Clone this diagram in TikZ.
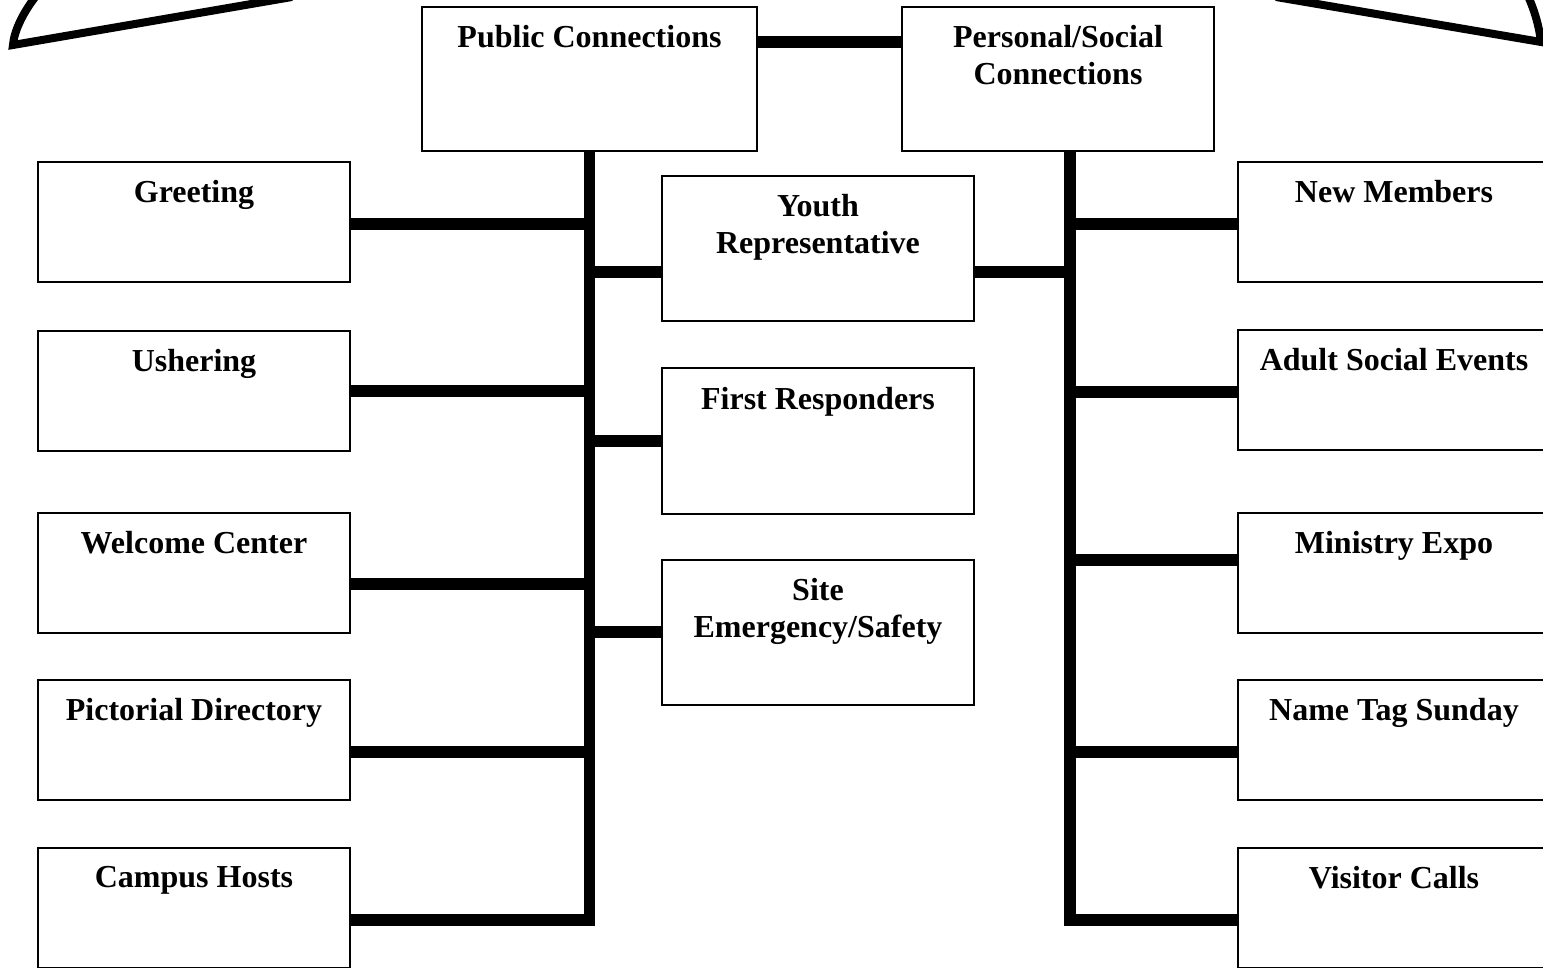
\documentclass[tikz,border=0pt]{standalone}
\usepackage{fontspec}
\setmainfont{Liberation Serif}
\usepackage{tikz}
\usetikzlibrary{positioning, calc}

\begin{document}
\begin{tikzpicture}[
    x=0.5pt, y=-0.5pt,
    title/.style={anchor=north, yshift=-9.5pt, inner sep=0pt, align=center, font=\fontsize{16}{18.5}\selectfont\bfseries},
    box/.style={rectangle, draw, line width=1pt, minimum width=156pt, minimum height=60pt, inner sep=0pt, label={[title]north:#1}},
    head/.style={box=#1, minimum height=72pt},
    mid/.style={box=#1, minimum height=72.5pt},
    wire/.style={line width=5.75pt, line join=miter},
    swoosh/.style={line width=4pt, line join=miter}
]

% page area
\path[use as bounding box, clip] (0,0) rectangle (1543,968);
\fill[white] (0,0) rectangle (1543,968);

% Heads
\node[head=Public Connections, minimum width=167.5pt] (pub) at (589.5,79) {};
\node[head={Personal/Social\\Connections}] (pers) at (1058,79) {};

% Public side
\node[box=Greeting] (greet) at (194,222) {};
\node[box=Ushering] (ush) at (194,391) {};
\node[box=Welcome Center] (welc) at (194,572.5) {};
\node[box=Pictorial Directory] (pict) at (194,740) {};
\node[box=Campus Hosts] (camp) at (194,908) {};

% Middle column
\node[mid={Youth\\Representative}] (youth) at (818,248.5) {};
\node[mid=First Responders] (first) at (818,441) {};
\node[mid={Site\\Emergency/Safety}] (site) at (818,632) {};

% Personal/social side
\node[box=New Members] (newm) at (1394,222) {};
\node[box=Adult Social Events] (adult) at (1394,390) {};
\node[box=Ministry Expo] (expo) at (1394,572.5) {};
\node[box=Name Tag Sunday] (ntag) at (1394,740) {};
\node[box=Visitor Calls] (visit) at (1394,908) {};

\coordinate (rtrunk) at ([xshift=6pt]pers.south);

% Link between heads
\draw[wire] ([yshift=18.5pt]pub.east) -- ([yshift=18.5pt]pers.west);

% Left trunk and branches
\draw[wire] (pub.south) |- ([yshift=-6pt]camp.east);
\draw[wire] ([yshift=-1pt]greet.east) -- ([yshift=-1pt]greet.east -| pub.south);
\draw[wire] (ush.east) -- (ush.east -| pub.south);
\draw[wire] ([yshift=-5.75pt]welc.east) -- ([yshift=-5.75pt]welc.east -| pub.south);
\draw[wire] ([yshift=-6pt]pict.east) -- ([yshift=-6pt]pict.east -| pub.south);

% Middle branches
\draw[wire] ([yshift=-11.75pt]youth.west) -- ([yshift=-11.75pt]youth.west -| pub.south);
\draw[wire] (first.west) -- (first.west -| pub.south);
\draw[wire] (site.west) -- (site.west -| pub.south);
\draw[wire] ([yshift=-11.75pt]youth.east) -- ([yshift=-11.75pt]youth.east -| rtrunk);

% Right trunk and branches
\draw[wire] (rtrunk) |- ([yshift=-6pt]visit.west);
\draw[wire] ([yshift=-1pt]newm.west) -- ([yshift=-1pt]newm.west -| rtrunk);
\draw[wire] ([yshift=-1pt]adult.west) -- ([yshift=-1pt]adult.west -| rtrunk);
\draw[wire] ([yshift=6.25pt]expo.west) -- ([yshift=6.25pt]expo.west -| rtrunk);
\draw[wire] ([yshift=-6pt]ntag.west) -- ([yshift=-6pt]ntag.west -| rtrunk);

% Outline at the top
\draw[swoosh] (36,-4) .. controls (22,14) and (14,32) .. (13,45) -- (292,-3);
\draw[swoosh] (1276,-3) -- (1541,42) .. controls (1539,26) and (1535,12) .. (1528,-4);

\end{tikzpicture}
\end{document}
